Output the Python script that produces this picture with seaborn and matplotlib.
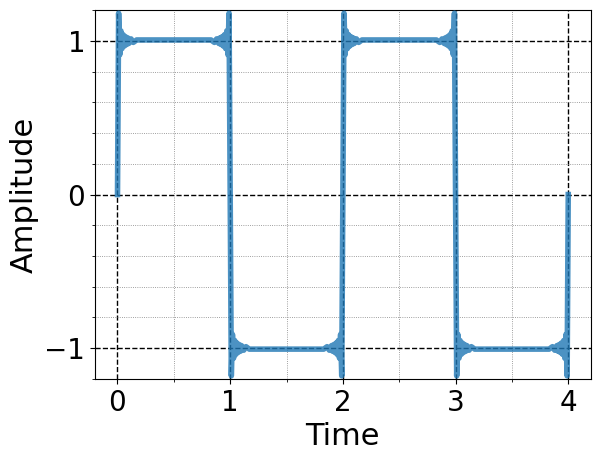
import numpy as np
import pandas as pd
import matplotlib
matplotlib.use("Agg")
import matplotlib.pyplot as plt
from matplotlib.ticker import MultipleLocator
import seaborn as sns

# Square-wave edges and the level held between consecutive edges
edge_times = [0.0, 1.0, 2.0, 3.0, 4.0]
levels = [1.0, -1.0, 1.0, -1.0]

# Gibbs ringing: offset from an edge and the deviation
# from the settled level (first entry = value at the edge itself, i.e. 0)
ring_dt = [0.000, 0.010, 0.020, 0.030, 0.040, 0.050, 0.060, 0.070, 0.080,
           0.090, 0.100, 0.120, 0.140, 0.170]
ring_dev = [-1.000, 0.180, -0.090, 0.065, -0.050, 0.040, -0.034, 0.028,
            -0.024, 0.020, -0.017, 0.013, -0.010, 0.006]

x_ticks = [0, 1, 2, 3, 4]
y_ticks = [-1, 0, 1]

# assemble the signal from the arrays above
t_parts, y_parts = [], []
dt = np.array(ring_dt)
dev = np.array(ring_dev)
n_seg = len(levels)
for i, te in enumerate(edge_times):
    before = levels[i - 1] if i > 0 else -levels[0]
    after = levels[i] if i < n_seg else -levels[-1]
    s = np.sign(after - before)
    amp = abs(after - before) / 2.0
    if i > 0:
        t_parts.append(te - dt[1:][::-1])
        y_parts.append(before - s * amp * dev[1:][::-1])
    t_parts.append(np.array([te]))
    y_parts.append(np.array([(before + after) / 2.0]))
    if i < n_seg:
        t_parts.append(te + dt[1:])
        y_parts.append(after + s * amp * dev[1:])
t_all = np.concatenate(t_parts)
y_all = np.concatenate(y_parts)
df = pd.DataFrame({"Time": t_all, "Amplitude": y_all})

fig, ax = plt.subplots(figsize=(6.01, 4.61), dpi=100)
fig.subplots_adjust(left=0.158, right=0.983, top=0.978, bottom=0.178)

sns.lineplot(data=df, x="Time", y="Amplitude", ax=ax, estimator=None,
             sort=False, color="#1f77b4", alpha=0.8, linewidth=4, zorder=3)

ax.set_xlim(-0.2, 4.2)
ax.set_ylim(-1.2, 1.2)
ax.set_xticks(x_ticks)
ax.set_yticks(y_ticks)
ax.xaxis.set_minor_locator(MultipleLocator(0.5))
ax.yaxis.set_minor_locator(MultipleLocator(0.2))
ax.set_axisbelow(True)
ax.grid(which="major", color="black", linestyle="--", linewidth=1.0)
ax.grid(which="minor", color="gray", linestyle=":", linewidth=0.6)
ax.tick_params(axis="both", which="major", labelsize=20)
ax.set_xlabel("Time", fontsize=22)
ax.set_ylabel("Amplitude", fontsize=22)

fig.savefig("out.png", dpi=100)
